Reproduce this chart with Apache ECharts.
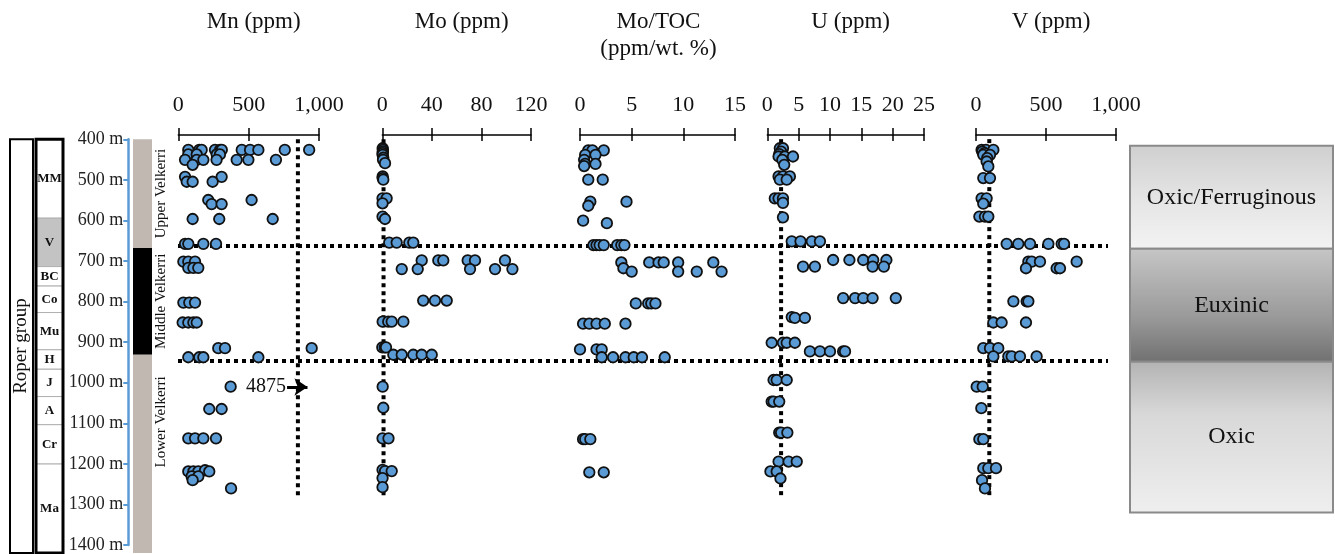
<!DOCTYPE html>
<html><head><meta charset="utf-8">
<script src="https://cdn.jsdelivr.net/npm/echarts@6/dist/echarts.min.js"></script>
<style>html,body{margin:0;padding:0;background:#fff}#c{width:1335px;height:554px}</style>
</head><body><div id="c"></div>
<script>
// ================= DATA =================
// [value, depth (m)]
const mnData = [
 [71,426],[149,426],[166,426],[261,426],[297,426],[309,426],[451,426],[510,426],[569,426],[757,426],[930,426],
 [71,437],[131,437],[273,437],[296,437],
 [48,450],[131,450],[178,450],[272,450],[415,450],[498,450],[694,450],
 [102,462],
 [48,491],[308,491],[60,503],[102,503],[244,503],
 [213,547],[521,547],[237,557],[308,557],
 [102,593],[291,593],[671,593],
 [48,653],[71,653],[178,653],[268,653],
 [36,696],[71,696],[119,696],[71,711],[107,711],[142,711],
 [36,795],[78,795],[119,795],
 [31,843],[71,843],[107,843],[131,843],
 [284,905],[332,905],[948,905],
 [71,927],[149,927],[178,927],[569,927],
 [372,998],
 [220,1052],[308,1052],
 [71,1123],[119,1123],[178,1123],[268,1123],
 [71,1203],[107,1203],[142,1203],[190,1200],[220,1203],[95,1215],[142,1215],[102,1224],
 [375,1244]
];
const moData = [
 [0.3,422],[0.5,426],[0.5,430],[0.2,434],[0.3,438],[0.8,445],[0.6,450],[2.2,458],
 [0.3,490],[0.3,494],[0.8,498],[0.2,543],[3.5,543],[0.2,555],[0.2,587],[2.2,593],
 [5.6,650],[11.6,650],[21.8,650],[25,650],
 [31.8,693],[45.2,693],[49.2,693],[68.9,693],[74.8,693],[99,693],
 [15.7,714],[28.6,714],[70.8,714],[91,714],[105,714],
 [33,790],[42.5,790],[52,790],
 [0.3,841],[4.8,841],[7.6,841],[17,841],
 [0,903],[2,903],[3,903],
 [8.9,921],[15.7,921],[25,921],[31.8,921],[39.9,921],
 [0.3,998],[0.8,1049],[0.2,1123],[5,1123],
 [0.2,1199],[2.2,1202],[7.6,1202],[0.2,1219],[0.2,1241]
];
const moTocData = [
 [0.8,427],[1.2,427],[2.3,427],[0.5,438],[1.5,438],[0.4,450],[0.5,460],[1.5,460],[0.4,465],
 [0.8,498],[2.2,498],[1.0,551],[4.5,551],[0.8,561],[0.3,597],[2.6,603],
 [1.3,656],[1.6,656],[1.9,656],[2.3,656],[3.6,656],[4.0,656],[4.3,656],
 [4.0,698],[6.7,698],[7.6,698],[8.1,698],[9.5,698],[12.9,698],[4.2,712],
 [5.0,720],[9.5,720],[11.3,720],[13.7,720],
 [5.4,797],[6.6,797],[6.9,797],[7.3,797],
 [0.3,846],[0.9,846],[1.6,846],[2.4,846],[4.4,846],
 [0,908],[1.6,908],[2.1,908],
 [2.1,927],[3.2,927],[4.4,927],[5.2,927],[6.0,927],[8.2,927],
 [0.3,1125],[0.5,1125],[1.0,1125],
 [0.9,1205],[2.3,1205]
];
const uData = [
 [2.0,422],[2.5,422],[2.2,430],[1.9,436],[1.8,442],[2.8,442],[4.1,442],[2.4,450],[2.7,462],
 [1.8,490],[2.5,490],[3.6,490],[2.0,498],[3.1,498],
 [1.2,543],[1.8,543],[2.5,543],[2.5,554],[2.5,589],
 [3.9,647],[5.3,647],[7.1,647],[8.4,647],
 [10.5,692],[13.1,692],[15.3,692],[16.9,692],[19.0,692],
 [5.7,708],[7.6,708],[16.8,708],[18.6,708],
 [12.1,784],[14,784],[15.3,784],[16.8,784],[20.5,784],
 [3.9,830],[4.4,832],[6.0,832],
 [0.7,892],[2.5,892],[3.1,892],[4.4,892],
 [6.8,913],[8.4,913],[10,913],[12.1,913],[12.4,913],
 [1.0,982],[1.5,982],[3.1,982],
 [0.7,1034],[1.0,1034],[1.9,1034],
 [1.9,1109],[2.2,1109],[3.2,1109],
 [1.8,1179],[3.4,1179],[4.7,1179],
 [0.5,1203],[1.5,1203],[2.1,1220]
];
const vData = [
 [40,426],[71,426],[124,426],[45,430],[60,434],[52,438],[100,438],[80,446],[76,454],[88,466],
 [52,494],[100,494],[40,543],[76,543],[52,556],[24,587],[64,587],[88,587],
 [219,653],[302,653],[386,653],[517,653],[612,653],[629,653],
 [374,696],[398,696],[457,696],[719,696],[357,712],[576,712],[600,712],
 [267,792],[362,792],[374,792],
 [124,843],[183,843],[357,843],
 [52,905],[100,905],[159,905],
 [124,925],[231,925],[255,925],[314,925],[433,925],
 [5,998],[48,998],[38,1050],[24,1125],[52,1125],
 [52,1195],[88,1195],[143,1195],[43,1224],[64,1244]
];
// reference (average shale) lines, value and depth extent
const mnThreshold = 850, moThreshold = 1, uThreshold = 2.2, vThreshold = 95;
const thresholdDepths = [400, 1265];
// off-scale Mn value annotation
const mnOffscaleText = '4875';
const mnOffscaleArrow = [[773, 999], [918, 999]];
// stratigraphy
const formationNames = ['MM','V','BC','Co','Mu','H','J','A','Cr','Ma'];
const formationBounds = [400,591,708,755,819,909,956,1022,1090,1185,1400];
const velkerriNames = ['Upper Velkerri','Middle Velkerri','Lower Velkerri'];
const velkerriBounds = [400,663,921,1400];
const redoxNames = ['Oxic/Ferruginous','Euxinic','Oxic'];
const redoxBounds = [416,665,938,1302];
const boundaryDepths = [658, 936];
const depthMin = 400, depthMax = 1400, depthStep = 100;

// ================= LAYOUT / STYLE =================
const FONT = "'Liberation Serif','Times New Roman',serif";
const TOP = 135, HEIGHT = 418, D_MIN = 390, D_MAX = 1400;
const panels = [
 {title:'Mn (ppm)', data:mnData, left:178.3, width:140.7, max:1000, interval:500, thr:mnThreshold},
 {title:'Mo (ppm)', data:moData, left:382.3, width:148.7, max:120, interval:40, thr:moThreshold},
 {title:'Mo/TOC\n(ppm/wt. %)', data:moTocData, left:580, width:155, max:15, interval:5, thr:null},
 {title:'U (ppm)', data:uData, left:767.3, width:156.7, max:25, interval:5, thr:uThreshold},
 {title:'V (ppm)', data:vData, left:976, width:140, max:1000, interval:500, thr:vThreshold}
];
const titleShift = [0, 0, -4, 0, 0];
const N = panels.length;
const FULL_X = 2*N, FULL_Y = N;

const grid = panels.map(p => ({left:p.left, top:TOP, width:p.width, height:HEIGHT}));
grid.push({left:0, top:TOP, width:1335, height:HEIGHT});            // full-width overlay
grid.push({left:128.3, top:139.3, width:5, height:414});             // depth axis

const xAxis = [], yAxis = [];
panels.forEach((p,i) => {
  const common = {type:'value', gridIndex:i, position:'top', min:0, max:p.max, interval:p.interval, splitLine:{show:false}};
  xAxis.push(Object.assign({}, common, {
    axisLine:{show:true, lineStyle:{color:'#000', width:1.5}},
    axisTick:{show:true, length:7, lineStyle:{color:'#000', width:1.5}},
    axisLabel:{show:true, margin:19, fontSize:22, fontFamily:FONT, color:'#111',
      formatter: v => v >= 1000 ? v.toLocaleString('en-US') : String(v)}
  }));
  xAxis.push(Object.assign({}, common, {
    axisLine:{show:false}, axisLabel:{show:false},
    axisTick:{show:true, inside:true, length:6, lineStyle:{color:'#000', width:1.5}}
  }));
  yAxis.push({type:'value', gridIndex:i, inverse:true, min:D_MIN, max:D_MAX, show:false});
});
xAxis.push({type:'value', gridIndex:N, min:0, max:1335, show:false});
yAxis.push({type:'value', gridIndex:N, inverse:true, min:D_MIN, max:D_MAX, show:false});
xAxis.push({type:'value', gridIndex:N+1, min:0, max:1, show:false});
yAxis.push({type:'value', gridIndex:N+1, inverse:true, min:depthMin, max:depthMax, interval:depthStep,
  position:'left',
  axisLine:{show:true, lineStyle:{color:'#5b9bd5', width:2.5}},
  axisTick:{show:true, length:5, lineStyle:{color:'#5b9bd5', width:2}},
  axisLabel:{show:true, margin:5, fontSize:18, fontFamily:FONT, color:'#222', formatter: v => v + ' m'},
  splitLine:{show:false}});

const series = [];
const dotted = {color:'#000', width:4, type:[4,4], cap:'butt'};

// overlay: stratigraphic columns, redox box, boundary lines
const ov = {xAxisIndex:FULL_X, yAxisIndex:FULL_Y, type:'custom', silent:true, z:1};
function ySpan(api){ return [api.coord([0, api.value(0)])[1], api.coord([0, api.value(1)])[1]]; }

series.push(Object.assign({}, ov, {
  data: formationNames.map((n,i) => [formationBounds[i], formationBounds[i+1]]),
  renderItem: (params, api) => {
    const [y0,y1] = ySpan(api);
    const name = formationNames[params.dataIndex];
    return {type:'group', children:[
      {type:'rect', shape:{x:36, y:y0, width:27, height:y1-y0},
       style:{fill: name==='V' ? '#c3c3c3' : '#fff', stroke:'#b0b0b0', lineWidth:1}},
      {type:'text', x:49.5, y:(y0+y1)/2, style:{text:name, fontSize:13, fontWeight:'bold', fontFamily:FONT,
        fill:'#111', align:'center', verticalAlign:'middle'}}
    ]};
  }
}));
series.push(Object.assign({}, ov, {
  data: [[formationBounds[0], formationBounds[formationBounds.length-1]]],
  renderItem: (params, api) => {
    const [y0,y1] = ySpan(api);
    return {type:'group', children:[
      {type:'rect', shape:{x:10, y:y0, width:23, height:y1-y0}, style:{fill:'none', stroke:'#000', lineWidth:2}},
      {type:'rect', shape:{x:36, y:y0, width:27, height:y1-y0}, style:{fill:'none', stroke:'#000', lineWidth:3}},
      {type:'text', x:21.5, y:(y0+y1)/2, rotation:Math.PI/2, style:{text:'Roper group', fontSize:19, fontFamily:FONT,
        fill:'#111', align:'center', verticalAlign:'middle'}}
    ]};
  }
}));
const velkerriLabelShift = [0, 0, -32];
series.push(Object.assign({}, ov, {
  data: velkerriNames.map((n,i) => [velkerriBounds[i], velkerriBounds[i+1]]),
  renderItem: (params, api) => {
    const [y0,y1] = ySpan(api);
    const i = params.dataIndex;
    return {type:'group', children:[
      {type:'rect', shape:{x:133, y:y0, width:19, height:y1-y0}, style:{fill: i===1 ? '#000' : '#c1b9b1'}},
      {type:'text', x:161, y:(y0+y1)/2 + velkerriLabelShift[i], rotation:Math.PI/2,
        style:{text:velkerriNames[i], fontSize:15, fontFamily:FONT, fill:'#111', align:'center', verticalAlign:'middle'}}
    ]};
  }
}));
const redoxFills = [
  [['#cfcfcf',0],['#e4e4e4',0.5],['#f3f3f3',1]],
  [['#c6c6c6',0],['#9a9a9a',0.6],['#707070',1]],
  [['#b3b3b3',0],['#d8d8d8',0.35],['#efefef',1]]
];
series.push(Object.assign({}, ov, {
  data: redoxNames.map((n,i) => [redoxBounds[i], redoxBounds[i+1]]),
  renderItem: (params, api) => {
    const [y0,y1] = ySpan(api);
    const i = params.dataIndex;
    const g = new echarts.graphic.LinearGradient(0,0,0,1, redoxFills[i].map(s => ({offset:s[1], color:s[0]})));
    return {type:'group', children:[
      {type:'rect', shape:{x:1130, y:y0, width:203, height:y1-y0}, style:{fill:g, stroke:'#8a8a8a', lineWidth:2}},
      {type:'text', x:1231.5, y:(y0+y1)/2, style:{text:redoxNames[i], fontSize:24, fontFamily:FONT,
        fill:'#111', align:'center', verticalAlign:'middle'}}
    ]};
  }
}));
series.push(Object.assign({}, ov, {
  z: 2,
  data: boundaryDepths.map(d => [d, d]),
  renderItem: (params, api) => {
    const y = api.coord([0, api.value(0)])[1];
    return {type:'line', shape:{x1:178, y1:y, x2:1108, y2:y},
      style:{stroke:'#000', lineWidth:4, lineDash:[4,4], lineCap:'butt'}};
  }
}));

panels.forEach((p,i) => {
  if (p.thr !== null) {
    const s = {type:'line', xAxisIndex:2*i, yAxisIndex:i, silent:true, z:2, showSymbol:false, symbol:'none',
      lineStyle: dotted, data: thresholdDepths.map(d => [p.thr, d])};
    if (i === 0) {
      s.markLine = {silent:true, symbol:['none','arrow'], symbolSize:[13,13],
        lineStyle:{type:'solid', width:3, color:'#000'},
        label:{show:true, position:'start', formatter:mnOffscaleText, fontSize:20, fontFamily:FONT, color:'#111', distance:1},
        data:[[{coord:mnOffscaleArrow[0]},{coord:mnOffscaleArrow[1]}]]};
    }
    series.push(s);
  }
  series.push({type:'scatter', xAxisIndex:2*i, yAxisIndex:i, z:3, symbol:'circle', symbolSize:10.5,
    itemStyle:{color:'#5b9bd5', borderColor:'#111', borderWidth:1.8, opacity:1},
    data:p.data});
});

const title = panels.map((p,i) => ({text:p.title, left:p.left + p.width/2 + titleShift[i], top:3, textAlign:'center',
  textStyle:{fontSize:23, fontWeight:'normal', fontFamily:FONT, color:'#111', lineHeight:27}}));

const chart = echarts.init(document.getElementById('c'), null, {renderer:'canvas'});
chart.setOption({animation:false, backgroundColor:'#fff', title, grid, xAxis, yAxis, series});
</script></body></html>
